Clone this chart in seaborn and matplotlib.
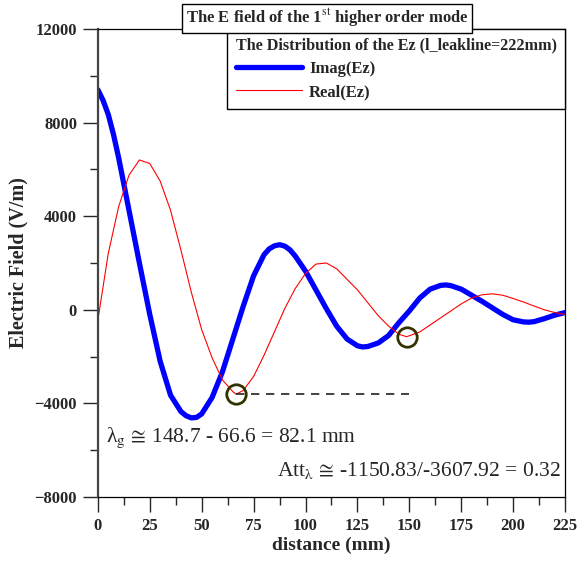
import numpy as np
import pandas as pd
import matplotlib
matplotlib.use('Agg')
import matplotlib.pyplot as plt
import seaborn as sns

# distance (mm) and field values (V/m)
dist = [0, 2.5, 5, 7.5, 10, 15, 20, 25, 30, 35, 40, 42.5, 45, 47.5, 50, 55, 60, 65, 70, 75,
        80, 82.5, 85, 87.5, 90, 92.5, 95, 100, 105, 110, 115, 120, 125, 127.5, 130, 135,
        140, 145, 150, 155, 160, 165, 167.5, 170, 175, 180, 185, 190, 195, 200, 205, 207.5,
        210, 215, 220, 225]
imag_ez = [9400, 8950, 8350, 7500, 6500, 4250, 2000, -200, -2200, -3650, -4350, -4530,
           -4620, -4600, -4450, -3750, -2650, -1250, 150, 1450, 2350, 2600, 2730, 2780, 2720,
           2560, 2300, 1650, 850, 50, -700, -1250, -1540, -1590, -1570, -1420, -1100, -550,
           -50, 500, 880, 1040, 1060, 1030, 880, 620, 360, 80, -200, -430, -520, -530, -510,
           -380, -230, -120]

dist_re = [0, 5, 10, 15, 20, 25, 30, 35, 40, 45, 50, 55, 60, 65, 66.6, 70, 75, 80, 85, 90,
           95, 100, 105, 110, 115, 120, 125, 130, 135, 140, 145, 148.7, 155, 160, 165, 170,
           175, 180, 185, 190, 195, 200, 205, 210, 215, 220, 225]
real_ez = [-450, 2400, 4400, 5750, 6400, 6250, 5500, 4250, 2550, 750, -850, -2050, -3000,
           -3500, -3607.92, -3450, -2850, -1950, -950, 50, 900, 1550, 1950, 2000, 1750, 1300,
           850, 300, -250, -700, -1050, -1150.83, -950, -650, -350, -50, 250, 500, 640, 680,
           620, 480, 330, 160, 0, -120, -200]

# marked minima of Real(Ez)
min_x = [66.6, 148.7]
min_y = [-3607.92, -1150.83]

sns.set_style('ticks')
plt.rcParams['font.family'] = ['Liberation Serif', 'DejaVu Serif']
plt.rcParams['mathtext.fontset'] = 'stix'

fig = plt.figure(figsize=(5.79, 5.67), dpi=100)
ax = fig.add_axes([0.169, 0.1235, 0.807, 0.8255])

sns.lineplot(x=dist, y=imag_ez, ax=ax, color='#0000ff', lw=3.8, label='Imag(Ez)')
sns.lineplot(x=dist_re, y=real_ez, ax=ax, color='#ff0000', lw=0.8, label='Real(Ez)')

# dashed reference line and circles at the minima
ax.hlines(min_y[0], min_x[0], 150, colors='#222222', linestyles=(0, (5, 4)), lw=1.2)
ax.plot(min_x, min_y, ls='none', marker='o', ms=14, mfc='none', mec='#333300', mew=2)

ax.set_xlim(0, 225)
ax.set_ylim(-8000, 12000)
ax.set_xticks(np.arange(0, 226, 25))
ax.set_xticks(np.arange(0, 226, 12.5), minor=True)
ax.set_yticks(np.arange(-8000, 12001, 4000))
ax.set_yticks(np.arange(-8000, 12001, 2000), minor=True)
ax.tick_params(which='major', length=11, width=1, labelsize=12, pad=4)
ax.tick_params(which='minor', length=5.5, width=1)
for lab in ax.get_xticklabels() + ax.get_yticklabels():
    lab.set_fontweight('bold')
for s in ax.spines.values():
    s.set_color('black')
    s.set_linewidth(0.9)
ax.spines['left'].set_linewidth(1.6)
ax.spines['left'].set_color('#444444')

ax.set_xlabel('distance (mm)', fontsize=14, fontweight='bold', labelpad=2)
ax.set_ylabel('Electric Field (V/m)', fontsize=14.5, fontweight='bold', labelpad=4)

fig.text(0.565, 0.968, r'The E field of the 1$^{\rm st}$ higher order mode', ha='center',
         va='center', fontsize=12, fontweight='bold',
         bbox=dict(boxstyle='square,pad=0.2', fc='white', ec='black', lw=1))

leg = ax.legend(title='The Distribution of the Ez (l_leakline=222mm)', loc='upper right',
                borderaxespad=0, fancybox=False, framealpha=1, edgecolor='black',
                handlelength=4.0, fontsize=12, title_fontsize=11.6, borderpad=0.5,
                labelspacing=0.45, handletextpad=0.4)
leg.get_title().set_fontweight('bold')
for t in leg.get_texts():
    t.set_fontweight('bold')
leg._legend_box.align = 'left'

ax.text(4, -5450, r'λ$_{\rm g}\,{\cong}\,$148.7 - 66.6 = 82.1 mm', fontsize=15.5, va='center')
ax.text(223, -6850, r'Att$_{\rm λ}\,{\cong}\,$-1150.83/-3607.92 = 0.32', fontsize=15.5,
        va='center', ha='right')

fig.savefig('out.png', dpi=100)
